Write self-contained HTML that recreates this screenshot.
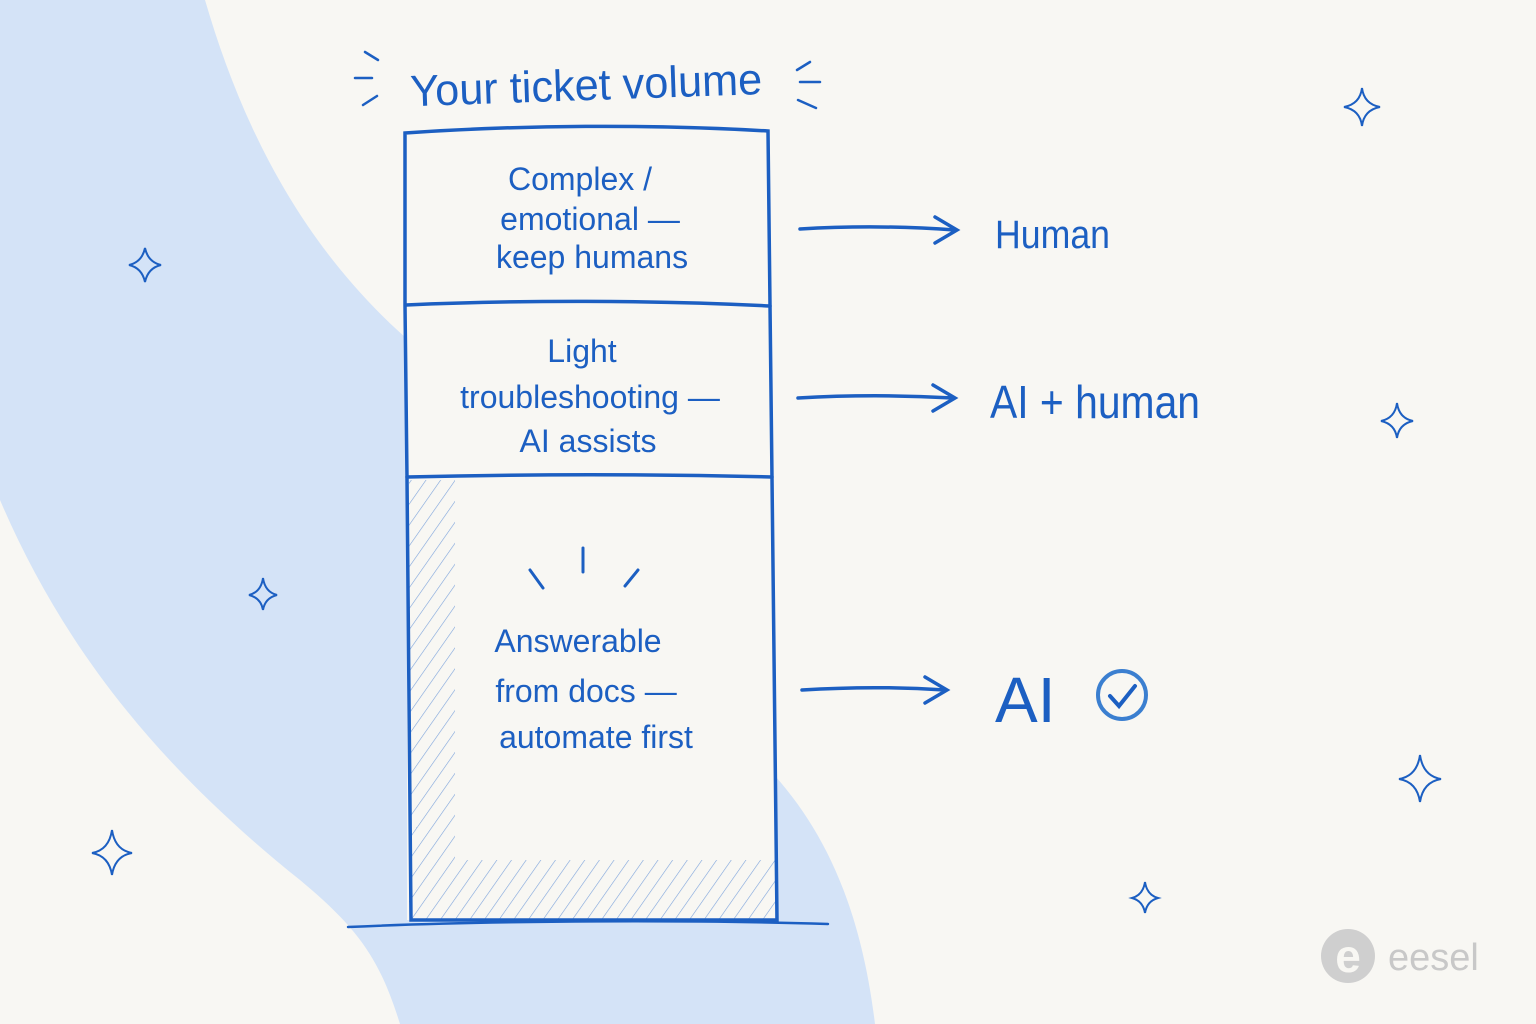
<!DOCTYPE html>
<html><head><meta charset="utf-8"><style>
body{margin:0;width:1536px;height:1024px;overflow:hidden;background:#f8f7f3;font-family:"Liberation Sans",sans-serif}
svg{position:absolute;left:0;top:0}
text{font-family:"Liberation Sans",sans-serif;fill:#1c5fc2}
</style></head><body>
<svg width="1536" height="1024" viewBox="0 0 1536 1024">
<defs>
<pattern id="h" width="12" height="12" patternUnits="userSpaceOnUse" patternTransform="rotate(35)">
<line x1="0" y1="0" x2="0" y2="12" stroke="#6f9ad8" stroke-width="1.2"/></pattern>
</defs>
<path d="M0,0 L205,0 C240,120 300,250 420,350 L760,760 C820,820 860,900 875,1024 L400,1024 C380,960 360,930 300,880 C150,760 60,640 0,500 Z" fill="#d4e3f7"/>
<rect x="407" y="478" width="368" height="442" fill="#f8f7f3"/>
<path d="M409,480 L409,920 L776,920 L776,860 L500,860 C460,850 455,820 455,780 L455,480 Z" fill="url(#h)" opacity="0.9"/>
<rect x="455" y="480" width="321" height="380" fill="#f8f7f3"/>
<rect x="405" y="130" width="365" height="348" fill="#f8f7f3"/>
<g fill="none" stroke="#1c5fc2" stroke-width="3.5" stroke-linecap="round">
<path d="M405,133 C520,125 650,124 768,131 L770,305 L772,478 L777,920 L411,920 L407,478 L405,305 Z"/>
<path d="M406,305 C520,300 650,300 770,306"/>
<path d="M407,477 C530,474 650,474 772,477"/>
<path d="M348,927 C500,920 700,920 828,924" stroke-width="2.5"/>
<path d="M800,229 C850,226 900,226 955,230 M935,217 L957,230 L935,243"/>
<path d="M798,398 C850,395 900,395 953,398 M933,385 L955,398 L933,411"/>
<path d="M802,690 C850,687 900,687 945,690 M925,677 L947,690 L925,703"/>
<path d="M365,52 L378,60 M355,78 L372,78 M363,105 L377,96 M810,62 L797,70 M820,82 L800,82 M816,108 L798,100" stroke-width="2.5"/>
<path d="M583,548 L583,572 M530,570 L543,588 M638,570 L625,586" stroke-width="3"/>
</g>
<g fill="none" stroke="#1c5fc2" stroke-width="2">
<path d="M145,248 Q148,262 161,265 Q148,268 145,282 Q142,268 129,265 Q142,262 145,248Z"/>
<path d="M263,578 Q265,592 277,595 Q265,598 263,610 Q261,598 249,595 Q261,592 263,578Z"/>
<path d="M112,830 Q115,850 132,853 Q115,856 112,875 Q109,856 92,853 Q109,850 112,830Z"/>
<path d="M1362,88 Q1364,104 1380,107 Q1364,110 1362,126 Q1360,110 1344,107 Q1360,104 1362,88Z"/>
<path d="M1397,403 Q1399,418 1413,421 Q1399,424 1397,438 Q1395,424 1381,421 Q1395,418 1397,403Z"/>
<path d="M1420,755 Q1423,776 1441,779 Q1423,782 1420,802 Q1417,782 1399,779 Q1417,776 1420,755Z"/>
<path d="M1145,882 Q1147,895 1158,898 Q1147,901 1145,913 Q1143,901 1132,898 Q1143,895 1145,882Z"/>
</g>
<circle cx="1122" cy="695" r="24" fill="none" stroke="#3b7fd0" stroke-width="4"/>
<path d="M1110,696 L1119,706 L1135,686" fill="none" stroke="#1c5fc2" stroke-width="4" stroke-linecap="round"/>
<text x="410" y="100" font-size="44" textLength="352" lengthAdjust="spacingAndGlyphs" transform="rotate(-2 590 80)">Your ticket volume</text>
<g font-size="32" text-anchor="middle">
<text x="580" y="190">Complex /</text>
<text x="590" y="230">emotional —</text>
<text x="592" y="268">keep humans</text>
<text x="582" y="362">Light</text>
<text x="590" y="408">troubleshooting —</text>
<text x="588" y="452">AI assists</text>
<text x="578" y="652">Answerable</text>
<text x="586" y="702">from docs —</text>
<text x="596" y="748">automate first</text>
</g>
<text x="995" y="248" font-size="40" textLength="115" lengthAdjust="spacingAndGlyphs">Human</text>
<text x="990" y="418" font-size="46" textLength="210" lengthAdjust="spacingAndGlyphs">AI + human</text>
<text x="995" y="722" font-size="64">AI</text>
<circle cx="1348" cy="956" r="27" fill="#cfcfcf"/>
<text x="1348" y="972" font-size="46" text-anchor="middle" style="fill:#f8f7f3" font-weight="bold">e</text>
<text x="1388" y="970" font-size="38" style="fill:#c8c8c8">eesel</text>
</svg>
</body></html>
